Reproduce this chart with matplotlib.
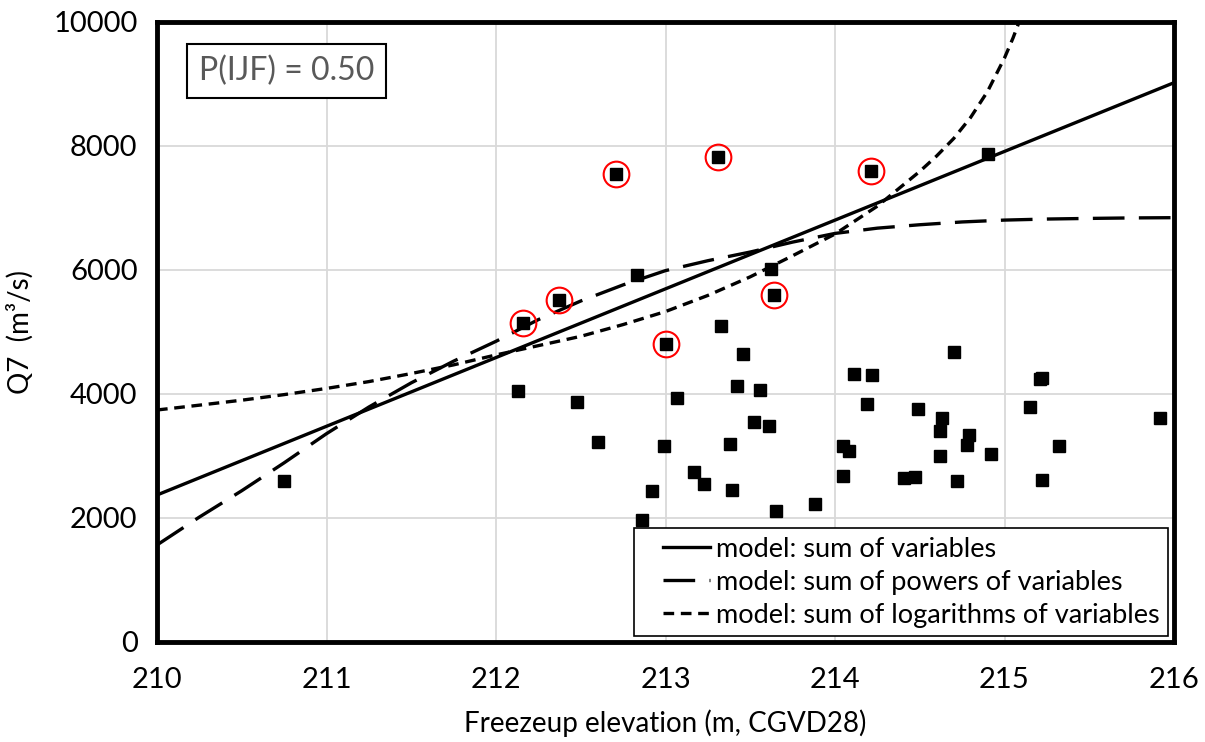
import matplotlib
matplotlib.use("Agg")
import matplotlib.pyplot as plt
from matplotlib.lines import Line2D
from matplotlib.legend_handler import HandlerLine2D

plt.rcParams['font.family'] = ['Lato', 'DejaVu Sans']

# ---- data ----
# observed points (freezeup elevation, Q7)
obs_x = [210.75, 212.13, 212.48, 212.60, 212.83, 213.62, 214.90,
         213.33, 213.46, 213.42, 213.56, 213.07, 213.52, 213.61, 212.99,
         213.38, 213.17, 213.23, 213.39, 212.92, 212.86, 213.65, 213.88,
         214.70, 214.11, 214.22, 214.19, 214.49, 214.63, 214.62, 214.05,
         214.08, 214.79, 214.78, 214.62, 214.05, 214.41, 214.47, 214.72,
         215.21, 215.22, 215.15, 215.92, 214.92, 215.32, 215.22]
obs_y = [2600, 4048, 3866, 3220, 5914, 6011, 7871,
         5097, 4645, 4124, 4065, 3930, 3543, 3484, 3161,
         3194, 2737, 2548, 2446, 2430, 1968, 2108, 2226,
         4672, 4317, 4301, 3833, 3758, 3613, 3403, 3167,
         3081, 3339, 3177, 3000, 2677, 2640, 2656, 2597,
         4235, 4260, 3785, 3613, 3027, 3156, 2608]
# highlighted (circled) points
hl_x = [212.16, 212.37, 212.71, 213.31, 214.21, 213.64, 213.00]
hl_y = [5140, 5516, 7548, 7823, 7597, 5597, 4811]

# model: sum of variables (straight line)
lin_x = [210.0, 216.0]
lin_y = [2371, 9021]

# model: sum of powers of variables
pow_x = [210.00, 210.25, 210.50, 210.75, 211.00, 211.25, 211.50, 211.75,
         212.00, 212.25, 212.50, 212.75, 213.00, 213.25, 213.50, 213.75,
         214.00, 214.25, 214.50, 214.75, 215.00, 215.25, 215.50, 215.75, 216.00]
pow_y = [1565, 2015, 2440, 2890, 3360, 3790, 4180, 4530,
         4850, 5200, 5500, 5760, 5990, 6150, 6290, 6450,
         6590, 6675, 6730, 6775, 6805, 6822, 6832, 6840, 6844]

# model: sum of logarithms of variables
log_x = [210.00, 210.25, 210.50, 210.75, 211.00, 211.25, 211.50, 211.75,
         212.00, 212.25, 212.50, 212.75, 213.00, 213.25, 213.50, 213.75,
         214.00, 214.25, 214.50, 214.60, 214.70, 214.80, 214.90, 215.00,
         215.05, 215.10]
log_y = [3742, 3820, 3900, 3990, 4090, 4200, 4330, 4470,
         4630, 4780, 4930, 5120, 5330, 5590, 5890, 6230,
         6580, 7030, 7590, 7840, 8120, 8460, 8880, 9420,
         9740, 10100]

x_ticks = [210, 211, 212, 213, 214, 215, 216]
y_ticks = [0, 2000, 4000, 6000, 8000, 10000]
legend_labels = ["model: sum of variables",
                 "model: sum of powers of variables",
                 "model: sum of logarithms of variables"]
annot_text = "P(IJF) = 0.50"
x_label = "Freezeup elevation (m, CGVD28)"
y_label = "Q7  (m\u00b3/s)"

# ---- figure ----
fig = plt.figure(figsize=(12.05, 7.42), dpi=100)
ax = fig.add_axes([157/1205, 100/742, 1017/1205, 620/742])

ax.set_xlim(210, 216)
ax.set_ylim(0, 10000)
ax.set_xticks(x_ticks)
ax.set_yticks(y_ticks)
ax.grid(True, color="#d9d9d9", linewidth=1.3)
ax.set_axisbelow(True)
ax.tick_params(length=0, labelsize=21, colors="#000000")
ax.tick_params(axis='x', pad=18)
ax.tick_params(axis='y', pad=14)
for s in ax.spines.values():
    s.set_linewidth(3.5)
    s.set_color("black")

lw = 2.4
dash_pow = (9.5, 4.3)
dash_log = (3.2, 2.0)
ax.plot(lin_x, lin_y, color="black", lw=lw, solid_capstyle="butt", zorder=3)
ax.plot(pow_x, pow_y, color="black", lw=lw, dashes=dash_pow, zorder=3)
ax.plot(log_x, log_y, color="black", lw=lw, dashes=dash_log, zorder=3)

ax.plot(obs_x, obs_y, ls="none", marker="s", markersize=8,
        color="black", zorder=4, clip_on=False)
ax.plot(hl_x, hl_y, ls="none", marker="s", markersize=8,
        color="black", zorder=4)
ax.plot(hl_x, hl_y, ls="none", marker="o", markersize=18.5,
        markerfacecolor="none", markeredgecolor="#ff0000",
        markeredgewidth=1.5, zorder=5)

ax.set_xlabel(x_label, fontsize=20, labelpad=12)
ax.set_ylabel(y_label, fontsize=20, labelpad=14)

ax.text(0.041, 0.921, annot_text, transform=ax.transAxes, fontsize=23,
        color="#595959", va="center", ha="left",
        bbox=dict(boxstyle="square,pad=0.38", facecolor="white",
                  edgecolor="black", linewidth=1.5), zorder=6)

handles = [Line2D([], [], color="black", lw=lw),
           Line2D([], [], color="black", lw=lw, dashes=dash_pow),
           Line2D([], [], color="black", lw=lw, dashes=dash_log)]
hmap = {h: HandlerLine2D(marker_pad=0.77, numpoints=2) for h in handles}
leg = ax.legend(handles, legend_labels, loc="lower right",
                bbox_to_anchor=(0.994, 0.0097), borderaxespad=0,
                fontsize=19.5, frameon=True, fancybox=False,
                edgecolor="black", framealpha=1, handlelength=3.3,
                handletextpad=-0.55, labelspacing=0.30, borderpad=0.3,
                handler_map=hmap)
leg.get_frame().set_linewidth(1.2)
leg.set_zorder(7)

fig.savefig("out.png", dpi=100)
